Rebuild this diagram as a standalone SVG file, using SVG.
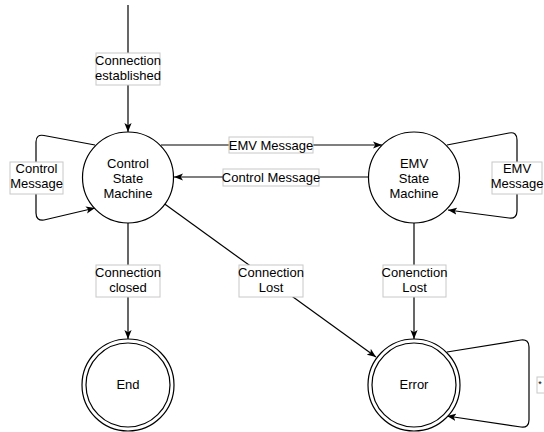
<svg xmlns="http://www.w3.org/2000/svg" width="544" height="432" viewBox="0 0 544 432">
<style>
.st{fill:#fff;stroke:#000;stroke-width:1.2}
.ln{fill:none;stroke:#000;stroke-width:1.2}
.lb{fill:#fff;stroke:#c8c8c8;stroke-width:1}
text{font-family:"Liberation Sans",Arial,Helvetica,sans-serif;font-size:13px;fill:#000;text-anchor:middle}
</style>
<defs>
<marker id="ar" viewBox="0 0 10 8" refX="10" refY="4" markerWidth="9" markerHeight="7.5" markerUnits="userSpaceOnUse" orient="auto">
<path d="M0,0 L10,4 L0,8 L2.5,4 Z" fill="#000"/>
</marker>
</defs>
<g id="connectors">
<path class="ln" d="M128,5 L128,132" marker-end="url(#ar)"/>
<path class="ln" d="M161,145 L382,145" marker-end="url(#ar)"/>
<path class="ln" d="M369,177 L174,177" marker-end="url(#ar)"/>
<path class="ln" d="M95,145 L44,135.5 Q36,134 36,142 L36,213 Q36,221 44,220 L95,208" marker-end="url(#ar)"/>
<path class="ln" d="M447,145 L509,133 Q517,131.5 517,140 L517,211 Q517,219 509,218 L448,210" marker-end="url(#ar)"/>
<path class="ln" d="M128,223 L128,339" marker-end="url(#ar)"/>
<path class="ln" d="M164,203.5 L376,357" marker-end="url(#ar)"/>
<path class="ln" d="M414,222 L414,339" marker-end="url(#ar)"/>
<path class="ln" d="M447,352 L521,340 Q529,339 529,347 L529,420 Q529,428 521,427 L447,416" marker-end="url(#ar)"/>
<g id="labels">
<rect class="lb" x="96" y="53" width="64" height="32"/>
<text x="128" y="64.5">Connection</text>
<text x="128" y="79.5">established</text>
<rect class="lb" x="229" y="137" width="84" height="16"/>
<text x="271" y="149.5">EMV Message</text>
<rect class="lb" x="223" y="169" width="96" height="17"/>
<text x="271" y="181.5">Control Message</text>
<rect class="lb" x="10" y="162" width="53" height="32"/>
<text x="36.5" y="172.5">Control</text>
<text x="36.5" y="187.5">Message</text>
<rect class="lb" x="492" y="162" width="50" height="32"/>
<text x="517" y="172.5">EMV</text>
<text x="517" y="187.5">Message</text>
<rect class="lb" x="96" y="265" width="64" height="32"/>
<text x="128" y="276.5">Connection</text>
<text x="128" y="291.5">closed</text>
<rect class="lb" x="239" y="265" width="64" height="32"/>
<text x="271" y="276.5">Connection</text>
<text x="271" y="291.5">Lost</text>
<rect class="lb" x="383" y="265" width="63" height="32"/>
<text x="414.5" y="276.5">Conenction</text>
<text x="414.5" y="291.5">Lost</text>
<rect class="lb" x="537" y="377" width="8" height="16"/>
<text x="540" y="387" style="font-size:9px">*</text>
</g>
</g>
<g id="control">
<circle class="st" cx="128" cy="177.5" r="45.5"/>
<text x="128" y="167.5">Control</text>
<text x="128" y="182.5">State</text>
<text x="128" y="197.5">Machine</text>
</g>
<g id="emv">
<circle class="st" cx="414" cy="177.5" r="45.5"/>
<text x="414" y="167.5">EMV</text>
<text x="414" y="182.5">State</text>
<text x="414" y="197.5">Machine</text>
</g>
<g id="end">
<circle class="st" cx="128" cy="385" r="46"/>
<circle class="st" cx="128" cy="385" r="42"/>
<text x="128" y="389">End</text>
</g>
<g id="error">
<circle class="st" cx="414" cy="385" r="46"/>
<circle class="st" cx="414" cy="385" r="42"/>
<text x="414" y="389">Error</text>
</g>
</svg>
